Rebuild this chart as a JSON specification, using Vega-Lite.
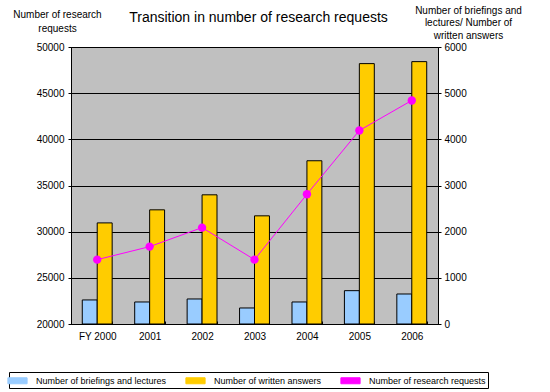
{
  "$schema": "https://vega.github.io/schema/vega-lite/v6.json",
  "autosize": "none",
  "width": 367,
  "height": 277,
  "padding": {"left": 71, "top": 47, "right": 112, "bottom": 68},
  "background": "white",
  "config": {
    "font": "Liberation Sans",
    "view": {"fill": "#C0C0C0", "stroke": "black", "strokeWidth": 1},
    "axis": {"labelColor": "black", "labelFontSize": 10, "titleColor": "black", "titleFontSize": 10, "titleFontWeight": "normal", "domainColor": "black", "tickColor": "black"}
  },
  "title": {"text": "Transition in number of research requests", "fontSize": 14, "fontWeight": "normal", "color": "black", "anchor": "middle", "dx": 4, "dy": 24},
  "data": {"values": [
    {"year": "2000", "series": "Number of briefings and lectures", "value": 521},
    {"year": "2001", "series": "Number of briefings and lectures", "value": 477},
    {"year": "2002", "series": "Number of briefings and lectures", "value": 542},
    {"year": "2003", "series": "Number of briefings and lectures", "value": 347},
    {"year": "2004", "series": "Number of briefings and lectures", "value": 477},
    {"year": "2005", "series": "Number of briefings and lectures", "value": 722},
    {"year": "2006", "series": "Number of briefings and lectures", "value": 650},
    {"year": "2000", "series": "Number of written answers", "value": 2190},
    {"year": "2001", "series": "Number of written answers", "value": 2473},
    {"year": "2002", "series": "Number of written answers", "value": 2798},
    {"year": "2003", "series": "Number of written answers", "value": 2343},
    {"year": "2004", "series": "Number of written answers", "value": 3536},
    {"year": "2005", "series": "Number of written answers", "value": 5640},
    {"year": "2006", "series": "Number of written answers", "value": 5683},
    {"year": "2000", "series": "Number of research requests", "value": 26970},
    {"year": "2001", "series": "Number of research requests", "value": 28380},
    {"year": "2002", "series": "Number of research requests", "value": 30440},
    {"year": "2003", "series": "Number of research requests", "value": 26970},
    {"year": "2004", "series": "Number of research requests", "value": 34050},
    {"year": "2005", "series": "Number of research requests", "value": 40960},
    {"year": "2006", "series": "Number of research requests", "value": 44210}
  ]},
  "layer": [
    {
      "transform": [{"filter": "datum.series != 'Number of research requests'"}],
      "mark": {"type": "bar", "stroke": "black", "strokeWidth": 1},
      "encoding": {
        "x": {"field": "year", "type": "nominal", "scale": {"paddingInner": 0.43, "paddingOuter": 0.215},
          "axis": {"title": null, "labelAngle": 0, "tickBand": "extent", "tickSize": -3, "labelPadding": 10, "labelExpr": "datum.value == '2000' ? 'FY 2000' : datum.value",
            "encode": {"labels": {"dx": {"value": {"expr": "datum.value == '2000' ? -10 : 0"}}}}}},
        "xOffset": {"field": "series", "type": "nominal", "scale": {"domain": ["Number of briefings and lectures", "Number of written answers"], "paddingInner": 0, "paddingOuter": 0}},
        "y": {"field": "value", "type": "quantitative", "scale": {"domain": [0, 6000], "nice": false},
          "axis": {"orient": "right", "values": [0, 1000, 2000, 3000, 4000, 5000, 6000], "format": "d", "grid": false, "tickSize": 3, "labelPadding": 3,
            "title": ["Number of briefings and", "lectures/ Number of", "written answers"], "titleAngle": 0, "titleAlign": "center", "titleBaseline": "bottom", "titleX": 30, "titleY": -32, "titleLineHeight": 12.5}},
        "color": {"field": "series", "type": "nominal",
          "scale": {"domain": ["Number of briefings and lectures", "Number of written answers", "Number of research requests"], "range": ["#99CCFF", "#FFCC00", "#FF00FF"]},
          "legend": {"title": null, "orient": "none", "legendX": -62, "legendY": 325, "direction": "horizontal", "strokeColor": "black", "padding": 2, "labelFontSize": 9, "labelColor": "black", "columnPadding": 16, "labelOffset": 12, "symbolSize": 144, "symbolStrokeWidth": 1, "symbolType": "M-1.6,-0.5H1.6V0.5H-1.6Z", "symbolStrokeColor": "black", "symbolOpacity": 1}}
      }
    },
    {
      "transform": [{"filter": "datum.series == 'Number of research requests'"}],
      "mark": {"type": "line", "strokeWidth": 1, "point": {"filled": true, "size": 70, "opacity": 1}},
      "encoding": {
        "x": {"field": "year", "type": "nominal"},
        "y": {"field": "value", "type": "quantitative", "scale": {"domain": [20000, 50000], "nice": false},
          "axis": {"orient": "left", "values": [20000, 25000, 30000, 35000, 40000, 45000, 50000], "format": "d", "grid": true, "gridColor": "black", "gridOpacity": 1, "gridWidth": 1, "tickSize": 3, "labelPadding": 4,
            "title": ["Number of research", "requests"], "titleAngle": 0, "titleAlign": "center", "titleBaseline": "bottom", "titleX": -14, "titleY": -28, "titleLineHeight": 14}},
        "color": {"field": "series", "type": "nominal",
          "legend": {"title": null, "orient": "none", "legendX": -62, "legendY": 325, "direction": "horizontal", "strokeColor": "black", "padding": 2, "labelFontSize": 9, "labelColor": "black", "columnPadding": 16, "labelOffset": 12, "symbolSize": 144, "symbolStrokeWidth": 1, "symbolType": "M-1.6,-0.5H1.6V0.5H-1.6Z", "symbolStrokeColor": "black", "symbolOpacity": 1}}
      }
    }
  ],
  "resolve": {"scale": {"y": "independent"}}
}
